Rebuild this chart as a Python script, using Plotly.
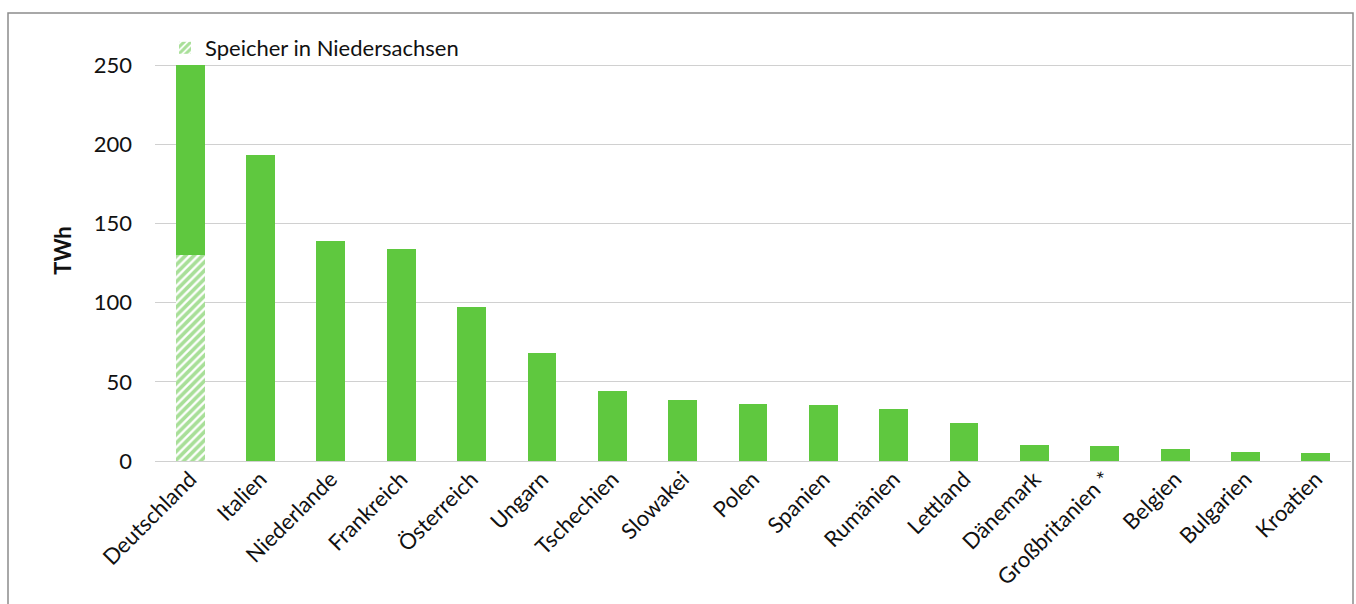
import plotly.graph_objects as go

# Gasspeicher-Kapazität nach Land (TWh)
laender = ["Deutschland", "Italien", "Niederlande", "Frankreich", "Österreich",
           "Ungarn", "Tschechien", "Slowakei", "Polen", "Spanien", "Rumänien",
           "Lettland", "Dänemark", "Großbritanien *", "Belgien", "Bulgarien", "Kroatien"]
kapazitaet = [250, 193, 139, 134, 97, 68, 44, 38.5, 36, 35.5, 33, 24, 10, 9.5, 7.4, 5.5, 4.9]

# Anteil der Speicher in Niedersachsen (nur Deutschland)
niedersachsen = [130] + [0] * (len(laender) - 1)
rest = [k - n for k, n in zip(kapazitaet, niedersachsen)]

y_ticks = [0, 50, 100, 150, 200, 250]

GRUEN = "#5fc83f"
FONT = "Lato, 'Open Sans', sans-serif"
FS = 22

fig = go.Figure()
fig.add_trace(go.Bar(
    x=laender, y=niedersachsen, name="Speicher in Niedersachsen",
    marker=dict(color="white", line=dict(width=0),
                pattern=dict(shape="/", fgcolor="#52c032", bgcolor="white",
                             size=6, solidity=0.62)),
    showlegend=True,
))
fig.add_trace(go.Bar(
    x=laender, y=rest, name="Gesamt",
    marker=dict(color=GRUEN, line=dict(width=0)),
    showlegend=False,
))

W, H = 1356, 604
L, R, T, B = 155, 5, 40, 143
plot_w = W - L - R
plot_h = H - T - B
y_max = 250 * plot_h / (461 - 65)

def px_x(p):
    return (p - L) / plot_w

def px_y(p):
    return (H - B - p) / plot_h

fig.update_layout(
    width=W, height=H,
    margin=dict(l=L, r=R, t=T, b=B),
    barmode="stack",
    bargap=0.59,
    plot_bgcolor="white", paper_bgcolor="white",
    font=dict(family=FONT, size=FS, color="#111111"),
    legend=dict(x=px_x(165), y=px_y(48), xanchor="left", yanchor="middle",
                bgcolor="rgba(0,0,0,0)", font=dict(size=FS),
                itemwidth=30, tracegroupgap=0),
    xaxis=dict(tickangle=-45, showgrid=False, showline=False, ticks="",
               tickfont=dict(size=FS), range=[-0.5, len(laender) - 0.5]),
    yaxis=dict(range=[0, y_max], tickvals=y_ticks, showgrid=True,
               gridcolor="#d0d0d0", gridwidth=1, zeroline=True,
               zerolinecolor="#d0d0d0", zerolinewidth=1, showline=False,
               ticks="", ticklabelstandoff=22, tickfont=dict(size=FS),
               title=dict(text="<b>TWh</b>", font=dict(size=FS), standoff=16)),
    shapes=[dict(type="rect", xref="paper", yref="paper",
                 x0=px_x(8), x1=px_x(1353), y0=px_y(640), y1=px_y(13),
                 line=dict(color="#8c8c8c", width=1.5), fillcolor="rgba(0,0,0,0)",
                 layer="below")],
)

fig.write_html("out.html")
